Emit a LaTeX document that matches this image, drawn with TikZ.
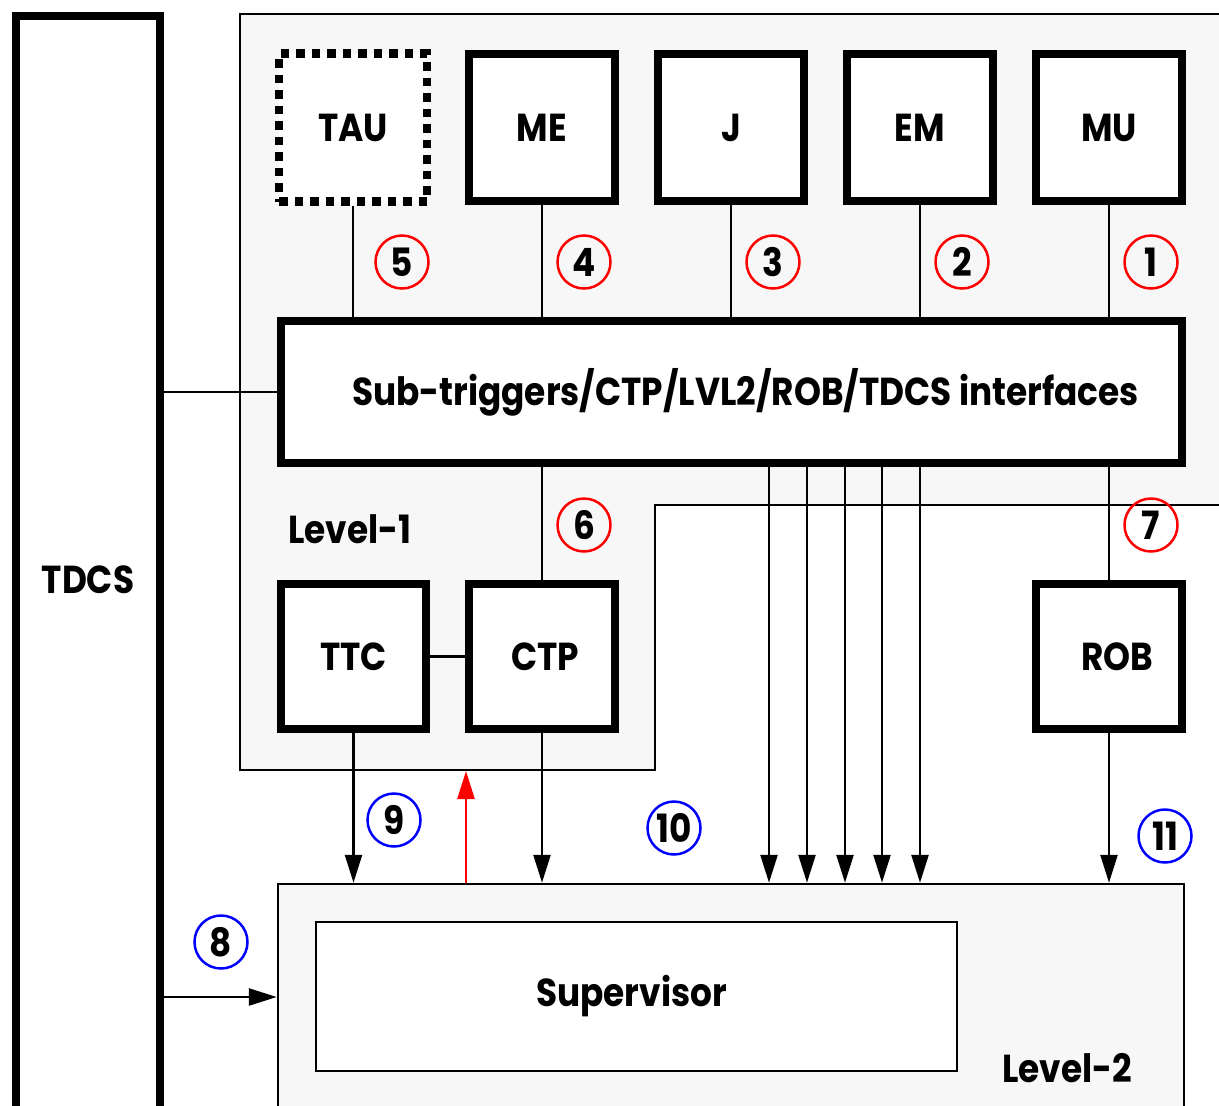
\documentclass[tikz,border=0pt]{standalone}
\usepackage{fontspec}
\setmainfont{Poppins}[FakeStretch=0.88]
\usetikzlibrary{arrows.meta}
\definecolor{lgray}{HTML}{F7F7F7}
\begin{document}
\begin{tikzpicture}[x=1pt,y=-1pt,
  every node/.style={font=\fontsize{39}{42}\selectfont\bfseries},
  thickbox/.style={draw, line width=8.5pt, fill=white, inner sep=0pt, minimum width=146pt, minimum height=146pt},
  dotbox/.style={thickbox, dash pattern=on 8.5pt off 7pt},
  thin/.style={line width=2.5pt},
  arr/.style={thin, -{Triangle[length=28pt,width=17pt]}},
  redc/.style={circle, draw=red, line width=2.5pt, minimum size=53pt, inner sep=0pt},
  bluec/.style={circle, draw=blue, line width=2.5pt, minimum size=53pt, inner sep=0pt},
  lab/.style={inner sep=0pt}
]
\useasboundingbox (0,0) rectangle (1219,1106);
\clip (0,0) rectangle (1219,1106);
% Level-1 region
\draw[thin, fill=lgray] (240,14) -- (1240,14) -- (1240,505) -- (655,505) -- (655,770) -- (240,770) -- cycle;
\node[lab] (l1lab) at (350,529) {Level-1};
% Level-2 region
\node[draw, thin, fill=lgray, minimum width=906pt, minimum height=300pt, inner sep=0pt] (l2) at (731,1034) {};
\node[draw, thin, fill=white, minimum width=641pt, minimum height=149pt, inner sep=0pt,
  label={[xshift=-5pt]center:Supervisor}] (sup) at (636.5,996.5) {};
\node[lab] (l2lab) at (1067,1068) {Level-2};
% TDCS
\node[thickbox, minimum width=144pt, minimum height=1200pt,
  label={[yshift=36pt]center:TDCS}] (tdcs) at (88,616) {};
% top boxes
\node[dotbox, minimum width=148pt, minimum height=148pt] (tau) at (353,127.5) {TAU};
\node[thickbox, minimum height=147pt] (me) at (542,127.5) {ME};
\node[thickbox, minimum height=147pt] (j) at (731,127.5) {J};
\node[thickbox, minimum height=147pt] (em) at (920,127.5) {EM};
\node[thickbox, minimum height=147pt] (mu) at (1109,127.5) {MU};
% interfaces box
\node[thickbox, minimum width=901pt, minimum height=142pt,
  label={[xshift=14pt]center:Sub-triggers/CTP/LVL2/ROB/TDCS interfaces}] (iface) at (731.5,392) {};
% lower level-1 boxes
\node[thickbox, minimum width=145pt, minimum height=145pt] (ttc) at (353.5,656.5) {TTC};
\node[thickbox, minimum width=146pt, minimum height=145pt, label={[xshift=3pt]center:CTP}] (ctp) at (542,656.5) {};
\node[thickbox, minimum width=146pt, minimum height=145pt, label={[xshift=8pt]center:ROB}] (rob) at (1109,656.5) {};
% helper coordinates
\coordinate (v1) at (769,0);
\coordinate (v2) at (807,0);
\coordinate (v3) at (845,0);
\coordinate (v4) at (882,0);
\coordinate (v5) at (920,0);
\coordinate (rx) at (466,0);
\coordinate (l1b) at (466,771);
\coordinate (y8) at (0,997);
% connectors
\foreach \b in {tau,me,j,em,mu} \draw[thin] (\b.south) -- (\b.south |- iface.north);
\draw[thin] (tdcs.east |- iface.west) -- (iface.west);
\draw[thin] (ctp.north) -- (ctp.north |- iface.south);
\draw[thin] (rob.north) -- (rob.north |- iface.south);
\draw[thin] (ttc.east) -- (ctp.west);
\foreach \v in {v1,v2,v3,v4,v5} \draw[arr] (iface.south -| \v) -- (l2.north -| \v);
\draw[arr] (ttc.south) -- (ttc.south |- l2.north);
\draw[arr] (ctp.south) -- (ctp.south |- l2.north);
\draw[arr] (rob.south) -- (rob.south |- l2.north);
\draw[arr, red] (l2.north -| rx) -- (l1b);
\draw[arr] (tdcs.east |- y8) -- (l2.west |- y8);
% circled numbers
\node[redc] (c5) at (402,262) {5};
\node[redc] (c4) at (584,262) {4};
\node[redc] (c3) at (773,262) {3};
\node[redc] (c2) at (962,262) {2};
\node[redc] (c1) at (1151,262) {1};
\node[redc] (c6) at (584,525) {6};
\node[redc] (c7) at (1151,525) {7};
\node[bluec] (c9) at (394,820) {9};
\node[bluec] (c10) at (674,828) {10};
\node[bluec] (c11) at (1165,836) {11};
\node[bluec] (c8) at (221,942) {8};
\end{tikzpicture}
\end{document}
